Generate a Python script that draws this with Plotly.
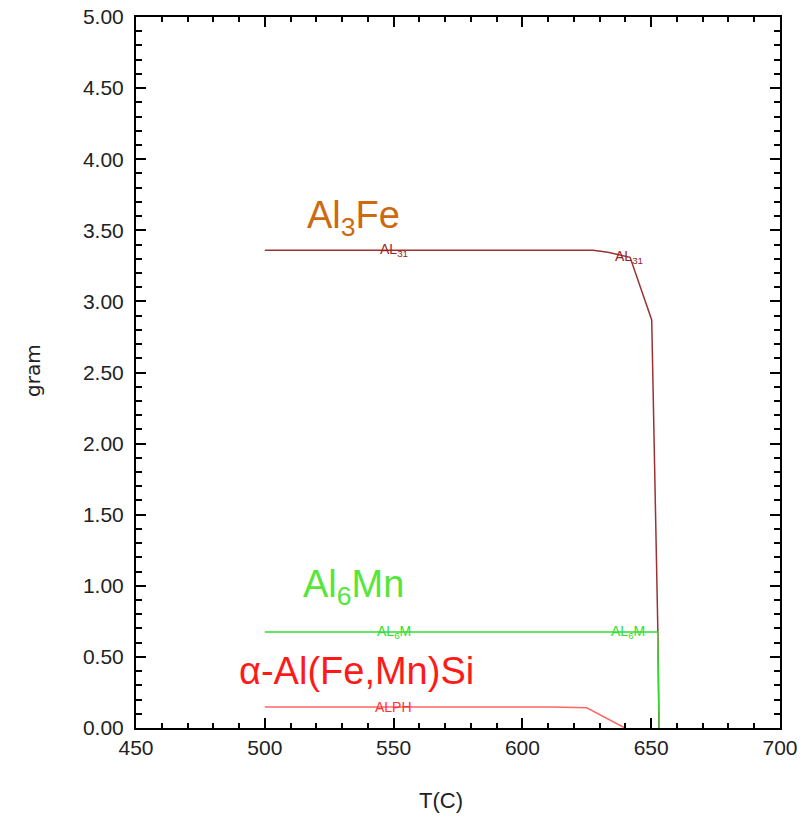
import plotly.graph_objects as go

# Data
al3fe_T = [500, 627.4, 633.2, 641.8, 650.2, 652.6, 653.0]
al3fe_g = [3.36, 3.36, 3.345, 3.31, 2.87, 0.67, 0.0]

al6mn_T = [500, 652.5, 653.1]
al6mn_g = [0.675, 0.675, 0.0]

alph_T = [500, 611.3, 625.0, 639.8]
alph_g = [0.148, 0.148, 0.142, 0.0]

x_ticks = [450, 500, 550, 600, 650, 700]
y_ticks = [0, 0.5, 1.0, 1.5, 2.0, 2.5, 3.0, 3.5, 4.0, 4.5, 5.0]

c_al3fe = "#993333"
c_al6mn = "#33dd33"
c_alph = "#ff6666"

fig = go.Figure()
fig.add_trace(go.Scatter(x=al3fe_T, y=al3fe_g, mode="lines",
                         line=dict(color=c_al3fe, width=1.5), showlegend=False))
fig.add_trace(go.Scatter(x=al6mn_T, y=al6mn_g, mode="lines",
                         line=dict(color=c_al6mn, width=1.5), showlegend=False))
fig.add_trace(go.Scatter(x=alph_T, y=alph_g, mode="lines",
                         line=dict(color=c_alph, width=1.5), showlegend=False))

font_fam = "Liberation Sans, Arial, sans-serif"
annots = [
    dict(x=550, y=3.36, text="AL<sub>31</sub>", color="#992222"),
    dict(x=641.5, y=3.31, text="AL<sub>31</sub>", color="#992222"),
    dict(x=550, y=0.675, text="AL<sub>6</sub>M", color="#33dd33"),
    dict(x=641, y=0.675, text="AL<sub>6</sub>M", color="#33dd33"),
    dict(x=550, y=0.148, text="ALPH", color="#ff3333"),
]
for a in annots:
    fig.add_annotation(x=a["x"], y=a["y"], xref="x", yref="y", text=a["text"],
                       showarrow=False, font=dict(size=14, color=a["color"], family=font_fam),
                       xanchor="center", yanchor="middle")

big = [
    dict(x=534.5, y=3.585, text="Al<sub>3</sub>Fe", color="#cc6a10"),
    dict(x=534.5, y=0.99, text="Al<sub>6</sub>Mn", color="#55e63a"),
    dict(x=535.5, y=0.404, text="α-Al(Fe,Mn)Si", color="#ff1a1a"),
]
for a in big:
    fig.add_annotation(x=a["x"], y=a["y"], xref="x", yref="y", text=a["text"],
                       showarrow=False, font=dict(size=38, color=a["color"], family=font_fam),
                       xanchor="center", yanchor="middle")

# axis titles
fig.add_annotation(x=-0.16, y=0.5035, xref="paper", yref="paper", text="gram",
                   textangle=-90, showarrow=False,
                   font=dict(size=20, color="#222222", family="DejaVu Sans, sans-serif"),
                   xanchor="center", yanchor="middle")
fig.add_annotation(x=0.4736, y=-0.1013, xref="paper", yref="paper", text="T(C)",
                   showarrow=False,
                   font=dict(size=22, color="#222222", family=font_fam),
                   xanchor="center", yanchor="middle")

axis_common = dict(
    showline=True, linecolor="black", linewidth=2, mirror="allticks",
    ticks="inside", ticklen=10, tickwidth=2, tickcolor="black",
    showgrid=False, zeroline=False, automargin=False,
    ticklabeloverflow="allow",
    tickfont=dict(size=21, color="#222222", family=font_fam),
)

fig.update_xaxes(range=[450, 700], tickvals=x_ticks, ticktext=[str(v) for v in x_ticks],
                 minor=dict(ticks="inside", ticklen=5, tickwidth=1.5, tickcolor="black", dtick=10, showgrid=False),
                 **axis_common)
fig.update_yaxes(range=[0, 5], tickvals=y_ticks, ticktext=[f"{v:.2f}" for v in y_ticks],
                 minor=dict(ticks="inside", ticklen=6, tickwidth=1.5, tickcolor="black", dtick=0.1, showgrid=False),
                 ticklabelstandoff=6,
                 **axis_common)

fig.update_layout(width=804, height=808, margin=dict(l=128, r=32, t=9, b=88),
                  plot_bgcolor="white", paper_bgcolor="white")

fig.write_html("out.html")
